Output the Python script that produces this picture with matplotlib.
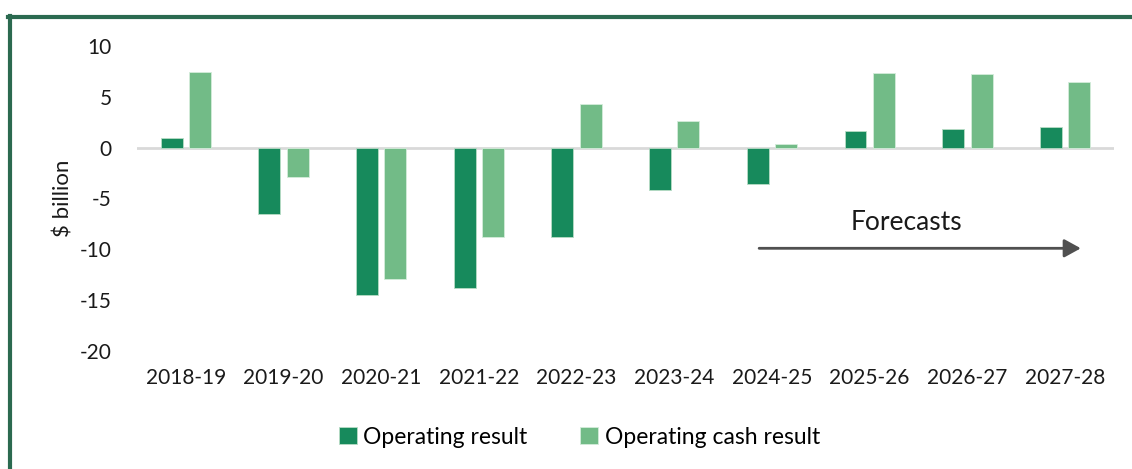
import matplotlib
matplotlib.use("Agg")
import matplotlib.pyplot as plt
import numpy as np

years = ["2018-19", "2019-20", "2020-21", "2021-22", "2022-23",
         "2023-24", "2024-25", "2025-26", "2026-27", "2027-28"]
operating_result = [0.95, -6.5, -14.5, -13.8, -8.8, -4.2, -3.6, 1.6, 1.8, 2.0]
operating_cash = [7.4, -2.9, -12.9, -8.8, 4.3, 2.6, 0.35, 7.3, 7.2, 6.45]

dark_green = "#178a5c"
light_green = "#72bb87"
frame_green = "#2b6a50"

plt.rcParams["font.family"] = ["Lato", "DejaVu Sans"]
plt.rcParams["axes.unicode_minus"] = False

fig = plt.figure(figsize=(11.32, 4.69), dpi=100)
ax = fig.add_axes([0.121, 0.2516, 0.863, 0.6504])

x = np.arange(len(years))
w = 0.225
ax.bar(x - 0.145, operating_result, w, color=dark_green, edgecolor="#b8dcc6",
       linewidth=0.6, label="Operating result", zorder=3)
ax.bar(x + 0.145, operating_cash, w, color=light_green, edgecolor="#d4ecdb",
       linewidth=0.6, label="Operating cash result", zorder=3)

ax.axhline(0, color="#d9d9d9", linewidth=2, zorder=2)
ax.set_xlim(-0.5, len(years) - 0.5)
ax.set_ylim(-20, 10)
ax.set_yticks(range(-20, 11, 5))
ax.set_xticks(x)
ax.set_xticklabels(years)
ax.tick_params(axis="both", length=0, labelsize=15, colors="#1a1a1a")
ax.tick_params(axis="y", pad=18)
ax.tick_params(axis="x", pad=12)
for s in ax.spines.values():
    s.set_visible(False)
ax.set_ylabel("$ billion", fontsize=16, color="#1a1a1a", labelpad=5)

# forecasts arrow
ax.annotate("", xy=(9.19, -9.9), xytext=(5.84, -9.9),
            arrowprops=dict(arrowstyle="-|>,head_length=1.0,head_width=0.55",
                            color="#505050", lw=2))
ax.text(7.38, -7.4, "Forecasts", fontsize=19, ha="center", va="center",
        color="#1a1a1a")

fig.legend(loc="center", bbox_to_anchor=(0.512, 0.068), ncol=2, frameon=False,
           fontsize=16.5, handlelength=0.75, handleheight=0.75, handletextpad=0.3,
           columnspacing=2.3)

# frame on top and left
fig.add_artist(plt.Line2D([8 / 1132, 1], [1 - 17 / 469, 1 - 17 / 469],
                          transform=fig.transFigure, color=frame_green, lw=3))
fig.add_artist(plt.Line2D([9.5 / 1132, 9.5 / 1132], [0, 1 - 16 / 469],
                          transform=fig.transFigure, color=frame_green, lw=3))

fig.savefig("out.png", dpi=100)
